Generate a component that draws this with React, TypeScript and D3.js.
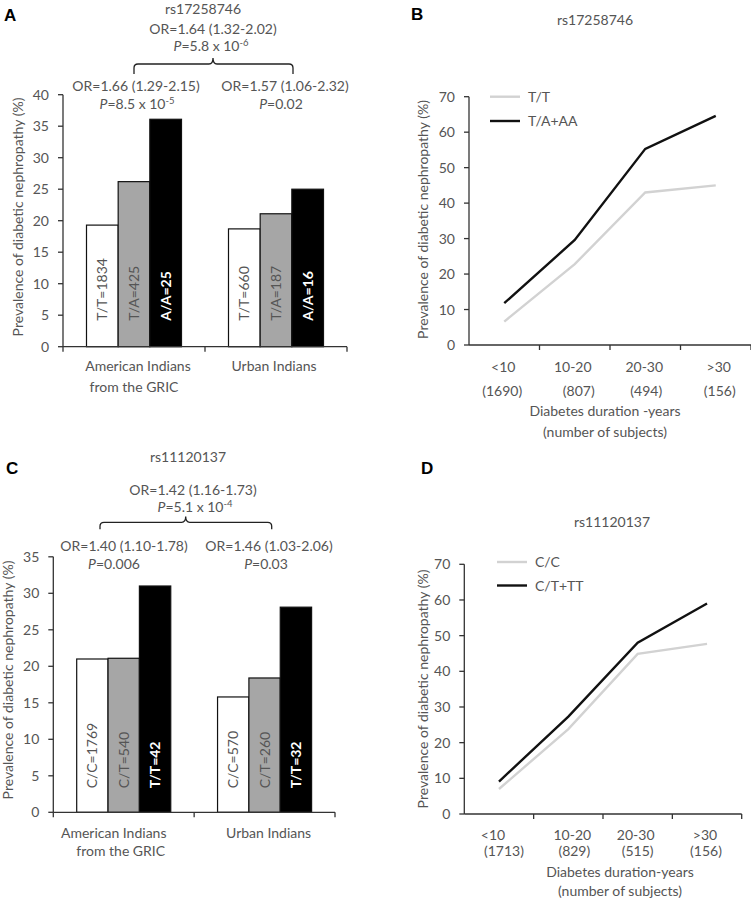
import React from "react";
import * as d3 from "d3";

const FONT = "Lato, 'Open Sans', sans-serif";
const TXT = "#555555";
const AX = "#333333";
const FS = 14;

// ---------- Data ----------
const groupLabels = [["American Indians", "from the GRIC"], ["Urban Indians"]];

const aGenotypes = ["T/T", "T/A", "A/A"];
const aGRIC = [19.3, 26.2, 36.1];
const aUrban = [18.7, 21.1, 25.0];
const aCountsGRIC = [1834, 425, 25];
const aCountsUrban = [660, 187, 16];
const aTicks = [0, 5, 10, 15, 20, 25, 30, 35, 40];

const cGenotypes = ["C/C", "C/T", "T/T"];
const cGRIC = [21.0, 21.1, 31.0];
const cUrban = [15.8, 18.4, 28.1];
const cCountsGRIC = [1769, 540, 42];
const cCountsUrban = [570, 260, 32];
const cTicks = [0, 5, 10, 15, 20, 25, 30, 35];

const durations = ["<10", "10-20", "20-30", ">30"];
const lineTicks = [0, 10, 20, 30, 40, 50, 60, 70];

const bSubjects = [1690, 807, 494, 156];
const bSeriesNames = ["T/T", "T/A+AA"];
const bTT = [6.6, 22.8, 43.0, 45.0];
const bTAAA = [11.8, 29.6, 55.3, 64.6];

const dSubjects = [1713, 829, 515, 156];
const dSeriesNames = ["C/C", "C/T+TT"];
const dCC = [7.0, 23.8, 44.9, 47.7];
const dCTTT = [9.1, 27.3, 48.0, 59.0];

const barFills = ["#ffffff", "#a6a6a6", "#000000"];
const lineColors = ["#d2d2d2", "#111111"];

// ---------- Components ----------
type BarProps = {
  genotypes: string[];
  values: number[][];
  counts: number[][];
  ticks: number[];
  x0: number; x1: number; yTop: number; yBot: number;
  barPad: number; labelOffset: number;
  catY1: number; catY2: number; catDx: number[][];
  yLabelX: number; yLabelY: number;
};

function BarPanel(p: BarProps) {
  const y = d3.scaleLinear().domain([0, p.ticks[p.ticks.length - 1]]).range([p.yBot, p.yTop]);
  const gx = d3.scaleBand<number>().domain(p.values.map((_, i) => i)).range([p.x0, p.x1]);
  const bx = d3.scaleBand<string>().domain(p.genotypes).range([p.barPad, gx.bandwidth() - p.barPad]);
  return (
    <g fontFamily={FONT}>
      {p.values.map((vals, gi) => (
        <g key={gi} transform={`translate(${gx(gi)},0)`}>
          {vals.map((v, i) => {
            const g = p.genotypes[i];
            const x = bx(g)!;
            const bold = i === 2;
            return (
              <g key={g}>
                <rect x={x} y={y(v)} width={bx.bandwidth()} height={p.yBot - y(v)}
                  fill={barFills[i]} stroke="#111" strokeWidth={1.2} />
                <text transform={`translate(${x + bx.bandwidth() / 2},${p.yBot - p.labelOffset}) rotate(-90)`}
                  dy="0.36em" fontSize={FS} fill={bold ? "#fff" : TXT} fontWeight={bold ? "bold" : "normal"}>
                  {`${g}=${p.counts[gi][i]}`}
                </text>
              </g>
            );
          })}
        </g>
      ))}
      <line x1={p.x0} x2={p.x0} y1={p.yTop} y2={p.yBot} stroke={AX} strokeWidth={1.3} />
      <line x1={p.x0} x2={p.x1} y1={p.yBot} y2={p.yBot} stroke={AX} strokeWidth={1.3} />
      {p.ticks.map((t) => (
        <g key={t}>
          <line x1={p.x0 - 5} x2={p.x0} y1={y(t)} y2={y(t)} stroke={AX} strokeWidth={1.3} />
          <text x={p.x0 - 14} y={y(t)} dy="0.36em" textAnchor="end" fontSize={FS} fill={TXT}>{t}</text>
        </g>
      ))}
      {[p.x0, p.x0 + gx.bandwidth(), p.x1].map((xv, i) => (
        <line key={i} x1={xv} x2={xv} y1={p.yBot} y2={p.yBot + 5} stroke={AX} strokeWidth={1.3} />
      ))}
      {groupLabels.map((lines, gi) => lines.map((ln, li) => (
        <text key={`${gi}-${li}`} x={gx(gi)! + gx.bandwidth() / 2 + p.catDx[gi][li]}
          y={li === 0 ? p.catY1 : p.catY2} textAnchor="middle" fontSize={FS} fill={TXT}>{ln}</text>
      )))}
      <text transform={`translate(${p.yLabelX},${p.yLabelY}) rotate(-90)`} dy="0.36em"
        textAnchor="middle" fontSize={FS} fill={TXT}>Prevalence of diabetic nephropathy (%)</text>
    </g>
  );
}

type LineProps = {
  names: string[];
  series: number[][];
  subjects: number[];
  x0: number; x1: number; yTop: number; yBot: number;
  xl1: number; xl2: number; xDx1: number[]; xDx2: number[];
  title1: string; titleX: number; titleY1: number; titleY2: number;
  legX: number; legY: number; legGap: number;
  yLabelX: number; yLabelY: number;
};

function LinePanel(p: LineProps) {
  const y = d3.scaleLinear().domain([0, 70]).range([p.yBot, p.yTop]);
  const x = d3.scaleBand<string>().domain(durations).range([p.x0, p.x1]);
  const cx = (d: string) => x(d)! + x.bandwidth() / 2;
  const line = d3.line<number>().x((_, i) => cx(durations[i])).y((v) => y(v));
  return (
    <g fontFamily={FONT}>
      {p.series.map((s, i) => (
        <path key={i} d={line(s)!} fill="none" stroke={lineColors[i]} strokeWidth={2.4} />
      ))}
      <line x1={p.x0} x2={p.x0} y1={p.yTop} y2={p.yBot} stroke={AX} strokeWidth={1.3} />
      <line x1={p.x0} x2={p.x1} y1={p.yBot} y2={p.yBot} stroke={AX} strokeWidth={1.3} />
      {lineTicks.map((t) => (
        <g key={t}>
          <line x1={p.x0 - 5} x2={p.x0} y1={y(t)} y2={y(t)} stroke={AX} strokeWidth={1.3} />
          <text x={p.x0 - 14} y={y(t)} dy="0.36em" textAnchor="end" fontSize={FS} fill={TXT}>{t}</text>
        </g>
      ))}
      {durations.map((d) => (
        <line key={d} x1={x(d)! + x.bandwidth()} x2={x(d)! + x.bandwidth()} y1={p.yBot} y2={p.yBot + 5}
          stroke={AX} strokeWidth={1.3} />
      ))}
      {durations.map((d, i) => (
        <g key={d}>
          <text x={cx(d) + p.xDx1[i]} y={p.xl1} textAnchor="middle" fontSize={FS} fill={TXT}>{d}</text>
          <text x={cx(d) + p.xDx2[i]} y={p.xl2} textAnchor="middle" fontSize={FS} fill={TXT}>{`(${p.subjects[i]})`}</text>
        </g>
      ))}
      <text x={p.titleX} y={p.titleY1} textAnchor="middle" fontSize={FS} fill={TXT}>{p.title1}</text>
      <text x={p.titleX} y={p.titleY2} textAnchor="middle" fontSize={FS} fill={TXT}>(number of subjects)</text>
      {p.names.map((n, i) => (
        <g key={n}>
          <line x1={p.legX} x2={p.legX + 30} y1={p.legY + i * p.legGap} y2={p.legY + i * p.legGap}
            stroke={lineColors[i]} strokeWidth={2.4} />
          <text x={p.legX + 38} y={p.legY + i * p.legGap} dy="0.36em" fontSize={FS} fill={TXT}>{n}</text>
        </g>
      ))}
      <text transform={`translate(${p.yLabelX},${p.yLabelY}) rotate(-90)`} dy="0.36em"
        textAnchor="middle" fontSize={FS} fill={TXT}>Prevalence of diabetic nephropathy (%)</text>
    </g>
  );
}

function Brace({ l, r, m, yl, ye, yp }: { l: number; r: number; m: number; yl: number; ye: number; yp: number }) {
  const d = `M${l},${ye} L${l},${yl + 4} Q${l},${yl} ${l + 4},${yl} L${m - 4},${yl} Q${m},${yl} ${m},${yp} ` +
    `Q${m},${yl} ${m + 4},${yl} L${r - 4},${yl} Q${r},${yl} ${r},${yl + 4} L${r},${ye}`;
  return <path d={d} fill="none" stroke="#222" strokeWidth={1.3} />;
}

function PLine({ x, y, mant, exp }: { x: number; y: number; mant: string; exp?: string }) {
  return (
    <text x={x} y={y} textAnchor="middle" fontSize={FS} fill={TXT} fontFamily={FONT}>
      <tspan fontStyle="italic">P</tspan>
      <tspan>{`=${mant}`}</tspan>
      {exp ? <tspan dy={-5} fontSize={9.5}>{exp}</tspan> : null}
    </text>
  );
}

function OR({ x, y, s }: { x: number; y: number; s: string }) {
  return <text x={x} y={y} textAnchor="middle" fontSize={FS} fill={TXT} fontFamily={FONT}>{s}</text>;
}

export default function App() {
  const letter = { fontFamily: "'Liberation Sans', Arial, sans-serif", fontWeight: "bold" as const, fontSize: 17, fill: "#000" };
  return (
    <svg width={751} height={900} style={{ position: "absolute", left: 0, top: 0, background: "#fff" }}>
      <rect width={751} height={900} fill="#fff" />
      {/* Panel A */}
      <text x={4} y={21} {...letter}>A</text>
      <text x={203} y={14} textAnchor="middle" fontSize={FS} fill={TXT} fontFamily={FONT}>rs17258746</text>
      <OR x={213} y={34} s="OR=1.64 (1.32-2.02)" />
      <PLine x={211} y={51} mant="5.8 x 10" exp="-6" />
      <Brace l={134} r={293} m={213} yl={64} ye={74} yp={58} />
      <OR x={136} y={91} s="OR=1.66 (1.29-2.15)" />
      <PLine x={137} y={108.5} mant="8.5 x 10" exp="-5" />
      <OR x={285} y={91} s="OR=1.57 (1.06-2.32)" />
      <PLine x={281} y={108.5} mant="0.02" />
      <BarPanel genotypes={aGenotypes} values={[aGRIC, aUrban]} counts={[aCountsGRIC, aCountsUrban]}
        ticks={aTicks} x0={63} x1={347} yTop={94.7} yBot={346.7} barPad={23.5} labelOffset={26}
        catY1={371} catY2={392} catDx={[[4, 0], [-2]]} yLabelX={18} yLabelY={217} />

      {/* Panel B */}
      <text x={411} y={20} {...letter}>B</text>
      <text x={595} y={24.5} textAnchor="middle" fontSize={FS} fill={TXT} fontFamily={FONT}>rs17258746</text>
      <LinePanel names={bSeriesNames} series={[bTT, bTAAA]} subjects={bSubjects}
        x0={469} x1={751} yTop={96.7} yBot={345} xl1={372} xl2={395.5} xDx1={[-1, -2, -1, 3]} xDx2={[-2, 4, 1, 4]}
        title1="Diabetes duration -years" titleX={605} titleY1={416} titleY2={437}
        legX={490} legY={96.7} legGap={24.3} yLabelX={422.5} yLabelY={219.5} />

      {/* Panel C */}
      <text x={6} y={474} {...letter}>C</text>
      <text x={188} y={462} textAnchor="middle" fontSize={FS} fill={TXT} fontFamily={FONT}>rs11120137</text>
      <OR x={193} y={494.5} s="OR=1.42 (1.16-1.73)" />
      <PLine x={195} y={512} mant="5.1 x 10" exp="-4" />
      <Brace l={100} r={271.7} m={185.7} yl={522.3} ye={529.3} yp={516.5} />
      <OR x={124} y={551} s="OR=1.40 (1.10-1.78)" />
      <PLine x={114} y={568.5} mant="0.006" />
      <OR x={269} y={551} s="OR=1.46 (1.03-2.06)" />
      <PLine x={266} y={568.5} mant="0.03" />
      <BarPanel genotypes={cGenotypes} values={[cGRIC, cUrban]} counts={[cCountsGRIC, cCountsUrban]}
        ticks={cTicks} x0={53.3} x1={335} yTop={556.8} yBot={812.3} barPad={23.4} labelOffset={24}
        catY1={837.5} catY2={856} catDx={[[-10, -3], [4]]} yLabelX={7.5} yLabelY={680} />

      {/* Panel D */}
      <text x={421} y={474} {...letter}>D</text>
      <text x={612} y={526.5} textAnchor="middle" fontSize={FS} fill={TXT} fontFamily={FONT}>rs11120137</text>
      <LinePanel names={dSeriesNames} series={[dCC, dCTTT]} subjects={dSubjects}
        x0={464.3} x1={741.7} yTop={564.3} yBot={814} xl1={839.5} xl2={856} xDx1={[-6, 4, -2, -2]} xDx2={[5, 6, 0, -1]}
        title1="Diabetes duration-years" titleX={620} titleY1={876.5} titleY2={896}
        legX={497} legY={562} legGap={23.5} yLabelX={422.5} yLabelY={689} />
    </svg>
  );
}
